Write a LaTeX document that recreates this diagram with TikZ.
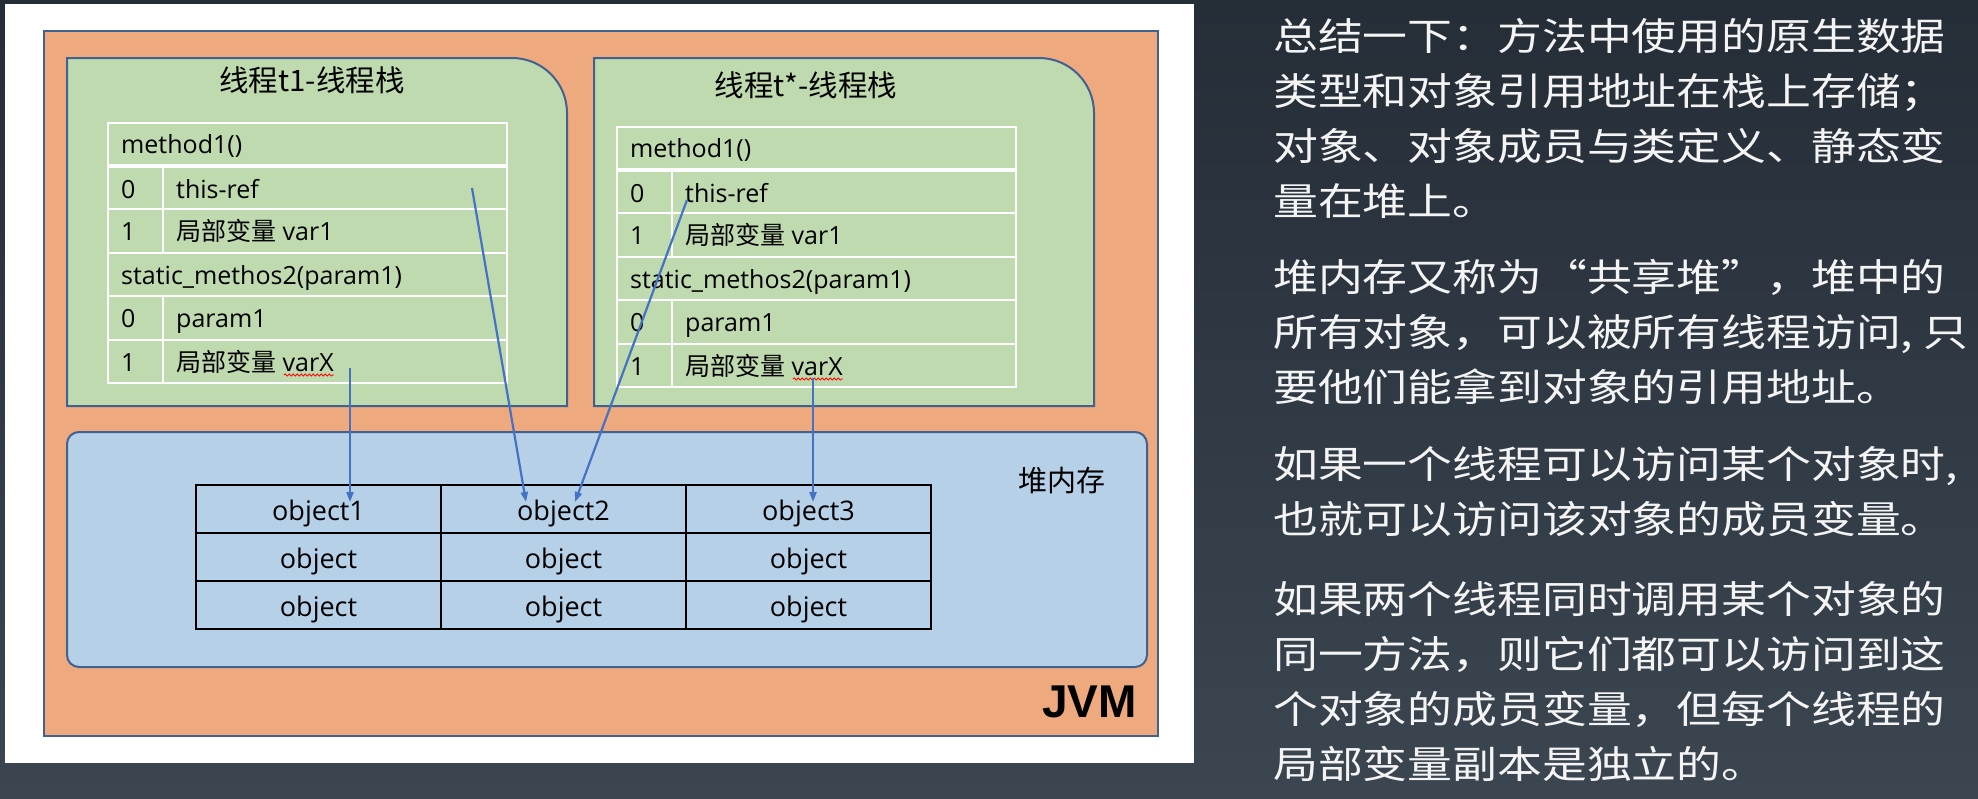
\documentclass[tikz,border=0pt]{standalone}
\usepackage{fontspec}
\setmainfont{Open Sans}
\newfontfamily\cjk{Noto Sans CJK SC}
\newfontfamily\sidefont[FakeStretch=1.18]{Noto Sans CJK SC}
\newfontfamily\jvmfont{Liberation Sans}
\usetikzlibrary{arrows.meta,decorations.pathmorphing}
\definecolor{bgtop}{HTML}{252D37}
\definecolor{bgbot}{HTML}{3B4651}
\definecolor{jvmorange}{HTML}{EEA97F}
\definecolor{stackgreen}{HTML}{C0DAAF}
\definecolor{heapblue}{HTML}{B6D0E8}
\definecolor{edgeblue}{HTML}{41628F}
\definecolor{arrowblue}{HTML}{4472C4}
\definecolor{sidewhite}{HTML}{F4F4F4}
\tikzset{
  jvmbox/.style={fill=jvmorange, draw=edgeblue, line width=1.2pt},
  stackbox/.style={fill=stackgreen, draw=edgeblue, line width=2pt},
  heapbox/.style={fill=heapblue, draw=edgeblue, line width=2pt, rounded corners=12pt},
  wline/.style={draw=white, line width=2pt},
  wthick/.style={draw=white, line width=4.5pt},
  celltxt/.style={anchor=base west, inner sep=0pt, font=\fontsize{25}{28}\selectfont, text=black},
  ttl/.style={anchor=base, inner sep=0pt, font=\cjk\fontsize{29.5}{33}\selectfont, text=black},
  objcell/.style={draw=black, line width=2pt, fill=heapblue, minimum width=245pt, minimum height=48pt, inner sep=0pt, text height=22pt, text depth=0pt, font=\fontsize{27}{30}\selectfont},
  refarrow/.style={draw=arrowblue, line width=2.2pt, -{Triangle[length=10pt,width=7pt]}},
  sidetxt/.style={anchor=base west, inner sep=0pt, text=sidewhite, font=\sidefont\fontsize{38}{44}\selectfont},
  squig/.style={draw=red, line width=0.8pt, decorate, decoration={snake, amplitude=1.1pt, segment length=4pt}},
}
\newcommand\stacktable{%
  \draw[wline] (108,123) rectangle (507,383);
  \draw[wthick] (108,166) -- (507,166);
  \foreach \yy in {209,253,296,340} \draw[wline] (108,\yy) -- (507,\yy);
  \draw[wline] (163,168) -- (163,253);
  \draw[wline] (163,296) -- (163,383);
  \node[celltxt] (m1) at (121,153) {method1()};
  \node[celltxt] (i0) at (121,198) {0};
  \node[celltxt] (v0) at (176,198) {this-ref};
  \node[celltxt] (i1) at (121,240) {1};
  \node[celltxt] (v1) at (176,240) {{\cjk 局部变量} var1};
  \node[celltxt] (m2) at (121,284) {static\_methos2(param1)};
  \node[celltxt] (j0) at (121,327) {0};
  \node[celltxt] (p1) at (176,327) {param1};
  \node[celltxt] (j1) at (121,371) {1};
  \node[celltxt] (vx) at (176,371) {{\cjk 局部变量} varX};
  \draw[squig] ([xshift=-50pt,yshift=-4pt]vx.base east) -- ([yshift=-4pt]vx.base east);
}
\begin{document}
\begin{tikzpicture}[x=1pt,y=-1pt]
\useasboundingbox (0,0) rectangle (1978,798);
\shade[top color=bgtop,bottom color=bgbot] (0,0) rectangle (1978,798);
\fill[white] (5,4) rectangle (1194,763);
\draw[jvmbox] (44,31) rectangle (1158,736);
% thread stacks
\draw[stackbox] (67,406) -- (67,58) -- (512,58) arc[start angle=90,end angle=0,radius=55pt] -- (567,406) -- cycle;
\draw[stackbox] (594,406) -- (594,58) -- (1039,58) arc[start angle=90,end angle=0,radius=55pt] -- (1094,406) -- cycle;
\node[ttl] (t1title) at (312,91) {线程t1-线程栈};
\node[ttl] (t2title) at (806,96) {线程t*-线程栈};
\begin{scope}[name prefix=a-]
  \stacktable
\end{scope}
\begin{scope}[shift={(509,4)}, name prefix=b-]
  \stacktable
\end{scope}
% heap
\draw[heapbox] (67,432) rectangle (1147,667);
\node[anchor=base, inner sep=0pt, font=\cjk\fontsize{29}{32}\selectfont] (heaplbl) at (1062,491) {堆内存};
\node[objcell] (o11) at (318.5,509) {object1};
\node[objcell] (o12) at (563.5,509) {object2};
\node[objcell] (o13) at (808.5,509) {object3};
\node[objcell] (o21) at (318.5,557) {object};
\node[objcell] (o22) at (563.5,557) {object};
\node[objcell] (o23) at (808.5,557) {object};
\node[objcell] (o31) at (318.5,605) {object};
\node[objcell] (o32) at (563.5,605) {object};
\node[objcell] (o33) at (808.5,605) {object};
\node[anchor=base east, inner sep=0pt, font=\jvmfont\bfseries\fontsize{46}{50}\selectfont] (jvm) at (1137,717) {JVM};
% references
\coordinate (s1) at (350,368); \coordinate (e1) at (350,502);
\coordinate (s2) at (472,188); \coordinate (e2) at (526,502);
\coordinate (s3) at (687,200); \coordinate (e3) at (575,502);
\coordinate (s4) at (813,378); \coordinate (e4) at (813,502);
\draw[refarrow] (s1) -- (e1);
\draw[refarrow] (s2) -- (e2);
\draw[refarrow] (s3) -- (e3);
\draw[refarrow] (s4) -- (e4);
% side text
\node[sidetxt] (l1) at (1273,50) {总结一下：方法中使用的原生数据};
\node[sidetxt] (l2) at (1273,105) {类型和对象引用地址在栈上存储；};
\node[sidetxt] (l3) at (1273,160) {对象、对象成员与类定义、静态变};
\node[sidetxt] (l4) at (1273,215) {量在堆上。};
\node[sidetxt] (l5) at (1273,291) {堆内存又称为“共享堆”，堆中的};
\node[sidetxt] (l6) at (1273,346) {所有对象，可以被所有线程访问, 只};
\node[sidetxt] (l7) at (1273,401) {要他们能拿到对象的引用地址。};
\node[sidetxt] (l8) at (1273,478) {如果一个线程可以访问某个对象时,};
\node[sidetxt] (l9) at (1273,533) {也就可以访问该对象的成员变量。};
\node[sidetxt] (l10) at (1273,613) {如果两个线程同时调用某个对象的};
\node[sidetxt] (l11) at (1273,668) {同一方法，则它们都可以访问到这};
\node[sidetxt] (l12) at (1273,723) {个对象的成员变量，但每个线程的};
\node[sidetxt] (l13) at (1273,778) {局部变量副本是独立的。};
\end{tikzpicture}
\end{document}
